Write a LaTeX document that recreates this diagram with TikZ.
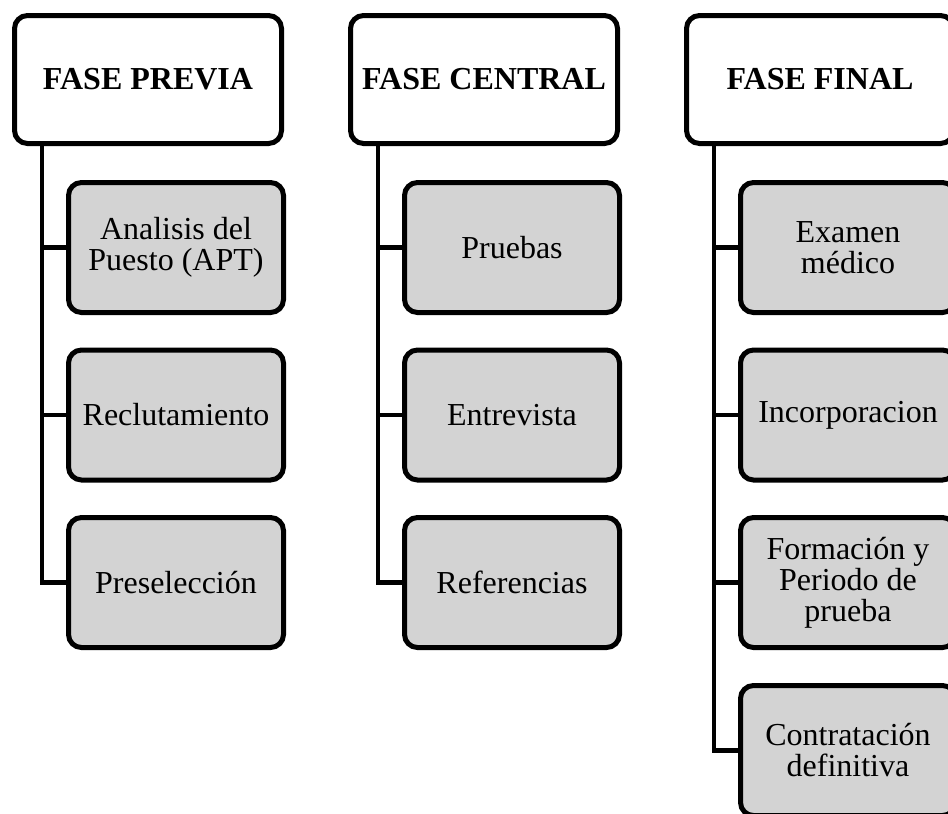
\documentclass[tikz,border=0pt]{standalone}
\usepackage{fontspec}
\setmainfont{Liberation Serif}
\definecolor{boxgray}{RGB}{211,211,211}

\begin{document}
\begin{tikzpicture}[
    x=1pt, y=-1pt,
    % Style for the white phase headers
    phase/.style={draw, line width=5pt, rounded corners=13pt, fill=white,
        minimum width=267pt, minimum height=128pt, align=center,
        font=\fontsize{32}{31}\selectfont\bfseries},
    % Style for the grey step boxes
    stepbox/.style={draw, line width=5pt, rounded corners=13pt, fill=boxgray,
        minimum width=215pt, minimum height=130pt, align=center, inner sep=2pt,
        font=\fontsize{32}{31}\selectfont},
    % Style for the tree lines
    link/.style={line width=4.5pt}
]

    \useasboundingbox (0,0) rectangle (948,814);

    % --- 1. Phase Headers ---
    \node[phase] (previa) at (148, 79.5) {FASE PREVIA};
    \node[phase] (central) at (484, 79.5) {FASE CENTRAL};
    \node[phase] (final) at (820, 79.5) {FASE FINAL};


    % --- 2. Step Boxes ---
    % Fase previa
    \node[stepbox] (apt) at (176, 247.5) {Analisis del\\Puesto (APT)};
    \node[stepbox] (reclut) at (176, 415) {Reclutamiento};
    \node[stepbox] (presel) at (176, 582.5) {Preselección};

    % Fase central
    \node[stepbox] (pruebas) at (512, 247.5) {Pruebas};
    \node[stepbox] (entrev) at (512, 415) {Entrevista};
    \node[stepbox] (refs) at (512, 582.5) {Referencias};

    % Fase final
    \node[stepbox] (examen) at (848, 247.5) {Examen\\médico};
    \node[stepbox] (incorp) at (848, 415) {Incorporacion};
    \node[stepbox] (formac) at (848, 582.5) {Formación y\\Periodo de\\prueba};
    \node[stepbox] (contrat) at (848, 750.5) {Contratación\\definitiva};


    % --- 3. Trunk Start Points ---
    \coordinate (t1) at ([xshift=30pt]previa.south west);
    \coordinate (t2) at ([xshift=30pt]central.south west);
    \coordinate (t3) at ([xshift=30pt]final.south west);


    % --- 4. Connectors ---
    \draw[link] (t1) |- (apt.west);
    \draw[link] (t1) |- (reclut.west);
    \draw[link] (t1) |- (presel.west);

    \draw[link] (t2) |- (pruebas.west);
    \draw[link] (t2) |- (entrev.west);
    \draw[link] (t2) |- (refs.west);

    \draw[link] (t3) |- (examen.west);
    \draw[link] (t3) |- (incorp.west);
    \draw[link] (t3) |- (formac.west);
    \draw[link] (t3) |- (contrat.west);

\end{tikzpicture}
\end{document}
